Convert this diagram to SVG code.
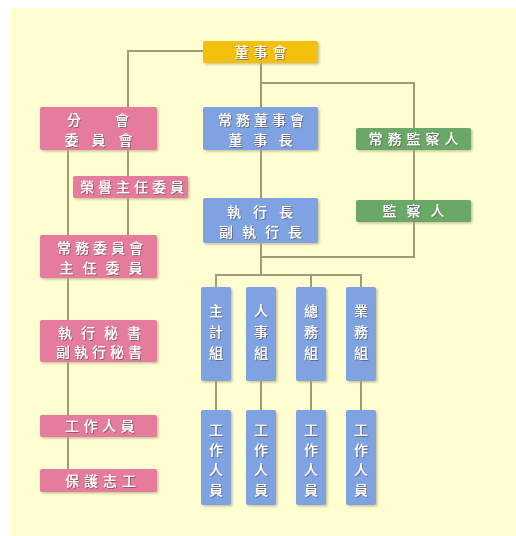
<svg xmlns="http://www.w3.org/2000/svg" width="516" height="536" viewBox="0 0 516 536">
<style>
.bg{fill:#FFFFD2}
.ln{stroke:#A39C72;stroke-width:2;fill:none}
.y{fill:#F4C010}
.p{fill:#E57C9C}
.b{fill:#7EA2E2}
.g{fill:#6BA868}
text{font-family:"Noto Sans CJK TC","Noto Sans CJK SC",sans-serif;font-size:14px;fill:#ffffff;text-anchor:middle;font-weight:500}
.sh{filter:url(#sh)}
</style>
<defs>
<filter id="sh" x="-10%" y="-10%" width="130%" height="130%">
<feDropShadow dx="1" dy="1" stdDeviation="0.6" flood-color="#5a4a50" flood-opacity="0.6"/>
</filter>
<filter id="bs" x="-10%" y="-10%" width="130%" height="130%">
<feDropShadow dx="1.5" dy="1.5" stdDeviation="0.8" flood-color="#b0a880" flood-opacity="0.7"/>
</filter>
</defs>
<rect class="bg" x="10" y="8" width="506" height="528"/>
<g id="connectors" class="ln">
<path d="M203 51 H128 V107"/>
<path d="M128 150 V176"/>
<path d="M128 198 V235"/>
<path d="M68 150 V469"/>
<path d="M261 63 V107"/>
<path d="M261 83 H414 V257 H261"/>
<path d="M261 150 V198"/>
<path d="M261 243 V275"/>
<path d="M216 287 V275 H361 V287"/>
<path d="M311 275 V287"/>
<path d="M216 381 V410"/>
<path d="M261 381 V410"/>
<path d="M311 381 V410"/>
<path d="M361 381 V410"/>
</g>
<g filter="url(#bs)">
<g id="n-board"><rect class="y" x="203" y="41" width="115" height="22" rx="2"/><text class="sh" x="263" y="57" style="letter-spacing:5px">董事會</text></g>
<g id="n-branch"><rect class="p" x="40" y="107" width="117" height="43" rx="2"/><text class="sh" x="115" y="125" style="letter-spacing:34px">分會</text><text class="sh" x="105" y="145" style="letter-spacing:13px">委員會</text></g>
<g id="n-honorary"><rect class="p" x="73" y="176" width="115" height="22" rx="2"/><text class="sh" x="134" y="192" style="letter-spacing:4px">榮譽主任委員</text></g>
<g id="n-standing-comm"><rect class="p" x="40" y="235" width="117" height="43" rx="2"/><text class="sh" x="102" y="253" style="letter-spacing:4px">常務委員會</text><text class="sh" x="105.5" y="273" style="letter-spacing:9px">主任委員</text></g>
<g id="n-secretary"><rect class="p" x="40" y="320" width="117" height="42" rx="2"/><text class="sh" x="104" y="338" style="letter-spacing:9px">執行秘書</text><text class="sh" x="101" y="357" style="letter-spacing:4px">副執行秘書</text></g>
<g id="n-staff-p"><rect class="p" x="40" y="415" width="117" height="22" rx="2"/><text class="sh" x="102" y="431" style="letter-spacing:4.5px">工作人員</text></g>
<g id="n-volunteer"><rect class="p" x="40" y="469" width="117" height="23" rx="2"/><text class="sh" x="103" y="486" style="letter-spacing:5px">保護志工</text></g>
<g id="n-chairman"><rect class="b" x="203" y="107" width="115" height="43" rx="2"/><text class="sh" x="263" y="125" style="letter-spacing:4px">常務董事會</text><text class="sh" x="266" y="145" style="letter-spacing:11px">董事長</text></g>
<g id="n-ceo"><rect class="b" x="203" y="198" width="115" height="45" rx="2"/><text class="sh" x="266" y="217" style="letter-spacing:12px">執行長</text><text class="sh" x="265" y="237" style="letter-spacing:9px">副執行長</text></g>
<g id="n-std-sup"><rect class="g" x="356" y="128" width="115" height="22" rx="2"/><text class="sh" x="416" y="144" style="letter-spacing:5px">常務監察人</text></g>
<g id="n-sup"><rect class="g" x="356" y="200" width="115" height="22" rx="2"/><text class="sh" x="418.5" y="216" style="letter-spacing:10px">監察人</text></g>
<g id="n-acct"><rect class="b" x="201" y="287" width="30" height="94" rx="2"/><text class="sh" x="216" y="316">主</text><text class="sh" x="216" y="337">計</text><text class="sh" x="216" y="358">組</text></g>
<g id="n-hr"><rect class="b" x="246" y="287" width="30" height="94" rx="2"/><text class="sh" x="261" y="316">人</text><text class="sh" x="261" y="337">事</text><text class="sh" x="261" y="358">組</text></g>
<g id="n-gen"><rect class="b" x="296" y="287" width="30" height="94" rx="2"/><text class="sh" x="311" y="316">總</text><text class="sh" x="311" y="337">務</text><text class="sh" x="311" y="358">組</text></g>
<g id="n-biz"><rect class="b" x="346" y="287" width="30" height="94" rx="2"/><text class="sh" x="361" y="316">業</text><text class="sh" x="361" y="337">務</text><text class="sh" x="361" y="358">組</text></g>
<g id="n-staff1"><rect class="b" x="201" y="410" width="30" height="95" rx="2"/><text class="sh" x="216" y="435">工</text><text class="sh" x="216" y="455">作</text><text class="sh" x="216" y="475">人</text><text class="sh" x="216" y="495">員</text></g>
<g id="n-staff2"><rect class="b" x="246" y="410" width="30" height="95" rx="2"/><text class="sh" x="261" y="435">工</text><text class="sh" x="261" y="455">作</text><text class="sh" x="261" y="475">人</text><text class="sh" x="261" y="495">員</text></g>
<g id="n-staff3"><rect class="b" x="296" y="410" width="30" height="95" rx="2"/><text class="sh" x="311" y="435">工</text><text class="sh" x="311" y="455">作</text><text class="sh" x="311" y="475">人</text><text class="sh" x="311" y="495">員</text></g>
<g id="n-staff4"><rect class="b" x="346" y="410" width="30" height="95" rx="2"/><text class="sh" x="361" y="435">工</text><text class="sh" x="361" y="455">作</text><text class="sh" x="361" y="475">人</text><text class="sh" x="361" y="495">員</text></g>
</g>
</svg>
